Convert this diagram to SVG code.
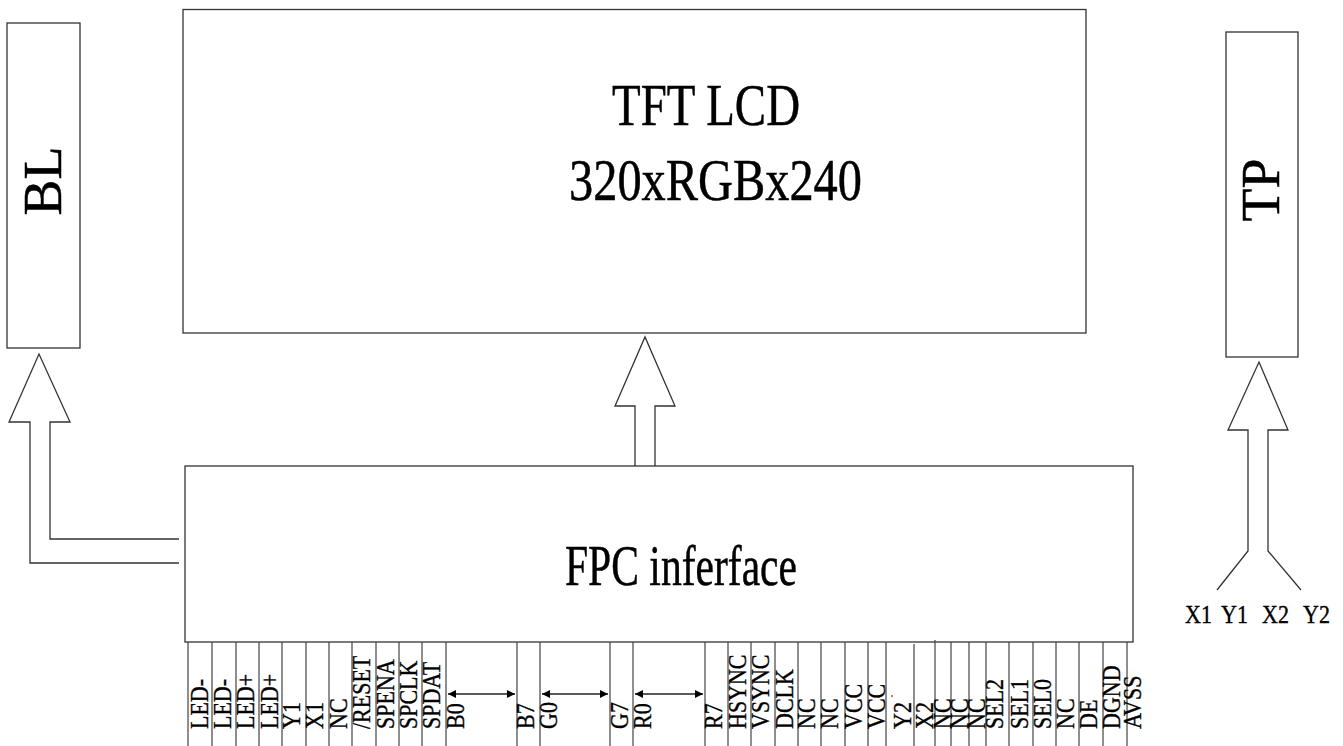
<svg xmlns="http://www.w3.org/2000/svg" width="1343" height="746" viewBox="0 0 1343 746">
<style>
.box{fill:#fff;stroke:#333;stroke-width:1.3}
.arr{fill:none;stroke:#333;stroke-width:1.3}
.pin{stroke:#444;stroke-width:1.2}
.pl{font-family:"Liberation Serif","Times New Roman",serif;font-size:25px;fill:#000;stroke:#000;stroke-width:0.35}
.big{font-family:"Liberation Serif","Times New Roman",serif;fill:#000;stroke:#000;stroke-width:0.5}
.pa{stroke:#222;stroke-width:1.3;marker-start:url(#ah);marker-end:url(#ah)}
</style>
<defs>
<marker id="ah" viewBox="0 0 10 10" refX="10" refY="5" markerWidth="10" markerHeight="8" markerUnits="userSpaceOnUse" orient="auto-start-reverse">
<path d="M0,0 L10,5 L0,10 z" fill="#000"/>
</marker>
</defs>
<rect width="1343" height="746" fill="#fff"/>

<g id="connectors">
<path class="arr" d="M179,539 H50 V422 H70 L39,354 L9,422 H30 V563 H179"/>
<path class="arr" d="M635,466 V406 H615 L645,337 L675,406 H655 V466"/>
<path class="arr" d="M1217,590 L1248,551 V430 H1228 L1259,362 L1288,430 H1268 V551 L1301,590"/>
</g>

<g id="bl">
<rect class="box" x="7" y="23" width="73" height="325"/>
<text class="big" font-size="54" text-anchor="middle" transform="translate(61,181) rotate(-90)">BL</text>
</g>

<g id="tft">
<rect class="box" x="183" y="9.5" width="903" height="323.5"/>
<text class="big" font-size="60" x="612" y="125" textLength="188" lengthAdjust="spacingAndGlyphs">TFT LCD</text>
<text class="big" font-size="60" x="569" y="200" textLength="293" lengthAdjust="spacingAndGlyphs">320xRGBx240</text>
</g>

<g id="tp">
<rect class="box" x="1226" y="32" width="72" height="325"/>
<text class="big" font-size="54" text-anchor="middle" transform="translate(1279,190) rotate(-90)">TP</text>
</g>

<g id="tp-labels" class="pl">
<text transform="translate(1185,623) scale(0.88,1)">X1</text>
<text transform="translate(1221,623) scale(0.88,1)">Y1</text>
<text transform="translate(1262,623) scale(0.88,1)">X2</text>
<text transform="translate(1303,623) scale(0.88,1)">Y2</text>
</g>

<g id="fpc">
<rect class="box" x="185" y="466" width="948" height="176"/>
<text class="big" font-size="58" x="565" y="585" textLength="232" lengthAdjust="spacingAndGlyphs">FPC inferface</text>
</g>

<g id="pin-lines">
<path class="pin" d="M188,642V746M212,642V746M236,642V746M259,642V746M282,642V746M306,642V746M329,642V746M352,642V746M376,642V746M399,642V746M422,642V746M446,642V746M517,642V746M540,642V746M610,642V746M633,642V746M705,642V746M728,642V746M751,642V746M775,642V746M798,642V746M821,642V746M845,642V746M868,642V746M886,642V746M914,644V746M935,640V746M951,642V746M969,642V746M986,642V746M1009,642V746M1033,642V746M1056,642V746M1079,642V746M1103,642V746M1127,642V746"/>
</g>

<g id="pin-arrows">
<line class="pa" x1="448" y1="694" x2="515" y2="694"/>
<line class="pa" x1="542" y1="694" x2="608" y2="694"/>
<line class="pa" x1="635" y1="694" x2="703" y2="694"/>
</g>
<circle cx="892" cy="696" r="0.8" fill="#000"/>

<g id="pins" class="pl">
<text transform="translate(208,729) rotate(-90) scale(0.88,1)">LED-</text>
<text transform="translate(231,729) rotate(-90) scale(0.88,1)">LED-</text>
<text transform="translate(254,729) rotate(-90) scale(0.88,1)">LED+</text>
<text transform="translate(278,729) rotate(-90) scale(0.88,1)">LED+</text>
<text transform="translate(300,729) rotate(-90) scale(0.88,1)">Y1</text>
<text transform="translate(323,729) rotate(-90) scale(0.88,1)">X1</text>
<text transform="translate(347,729) rotate(-90) scale(0.88,1)">NC</text>
<text transform="translate(370,729) rotate(-90) scale(0.88,1)">/RESET</text>
<text transform="translate(394,729) rotate(-90) scale(0.88,1)">SPENA</text>
<text transform="translate(417,729) rotate(-90) scale(0.88,1)">SPCLK</text>
<text transform="translate(440,729) rotate(-90) scale(0.88,1)">SPDAT</text>
<text transform="translate(464,729) rotate(-90) scale(0.88,1)">B0</text>
<text transform="translate(534,729) rotate(-90) scale(0.88,1)">B7</text>
<text transform="translate(557,729) rotate(-90) scale(0.88,1)">G0</text>
<text transform="translate(628,729) rotate(-90) scale(0.88,1)">G7</text>
<text transform="translate(651,729) rotate(-90) scale(0.88,1)">R0</text>
<text transform="translate(722,729) rotate(-90) scale(0.88,1)">R7</text>
<text transform="translate(746,729) rotate(-90) scale(0.88,1)">HSYNC</text>
<text transform="translate(769,729) rotate(-90) scale(0.88,1)">VSYNC</text>
<text transform="translate(793,729) rotate(-90) scale(0.88,1)">DCLK</text>
<text transform="translate(815,729) rotate(-90) scale(0.88,1)">NC</text>
<text transform="translate(838,729) rotate(-90) scale(0.88,1)">NC</text>
<text transform="translate(862,729) rotate(-90) scale(0.88,1)">VCC</text>
<text transform="translate(885,729) rotate(-90) scale(0.88,1)">VCC</text>
<text transform="translate(911,729) rotate(-90) scale(0.88,1)">Y2</text>
<text transform="translate(933,729) rotate(-90) scale(0.88,1)">X2</text>
<text transform="translate(951,729) rotate(-90) scale(0.88,1)">NC</text>
<text transform="translate(968,729) rotate(-90) scale(0.88,1)">NC</text>
<text transform="translate(985,729) rotate(-90) scale(0.88,1)">NC</text>
<text transform="translate(1003,729) rotate(-90) scale(0.88,1)">SEL2</text>
<text transform="translate(1028,729) rotate(-90) scale(0.88,1)">SEL1</text>
<text transform="translate(1051,729) rotate(-90) scale(0.88,1)">SEL0</text>
<text transform="translate(1074,729) rotate(-90) scale(0.88,1)">NC</text>
<text transform="translate(1097,729) rotate(-90) scale(0.88,1)">DE</text>
<text transform="translate(1120,729) rotate(-90) scale(0.88,1)">DGND</text>
<text transform="translate(1141,729) rotate(-90) scale(0.88,1)">AVSS</text>
</g>
</svg>
